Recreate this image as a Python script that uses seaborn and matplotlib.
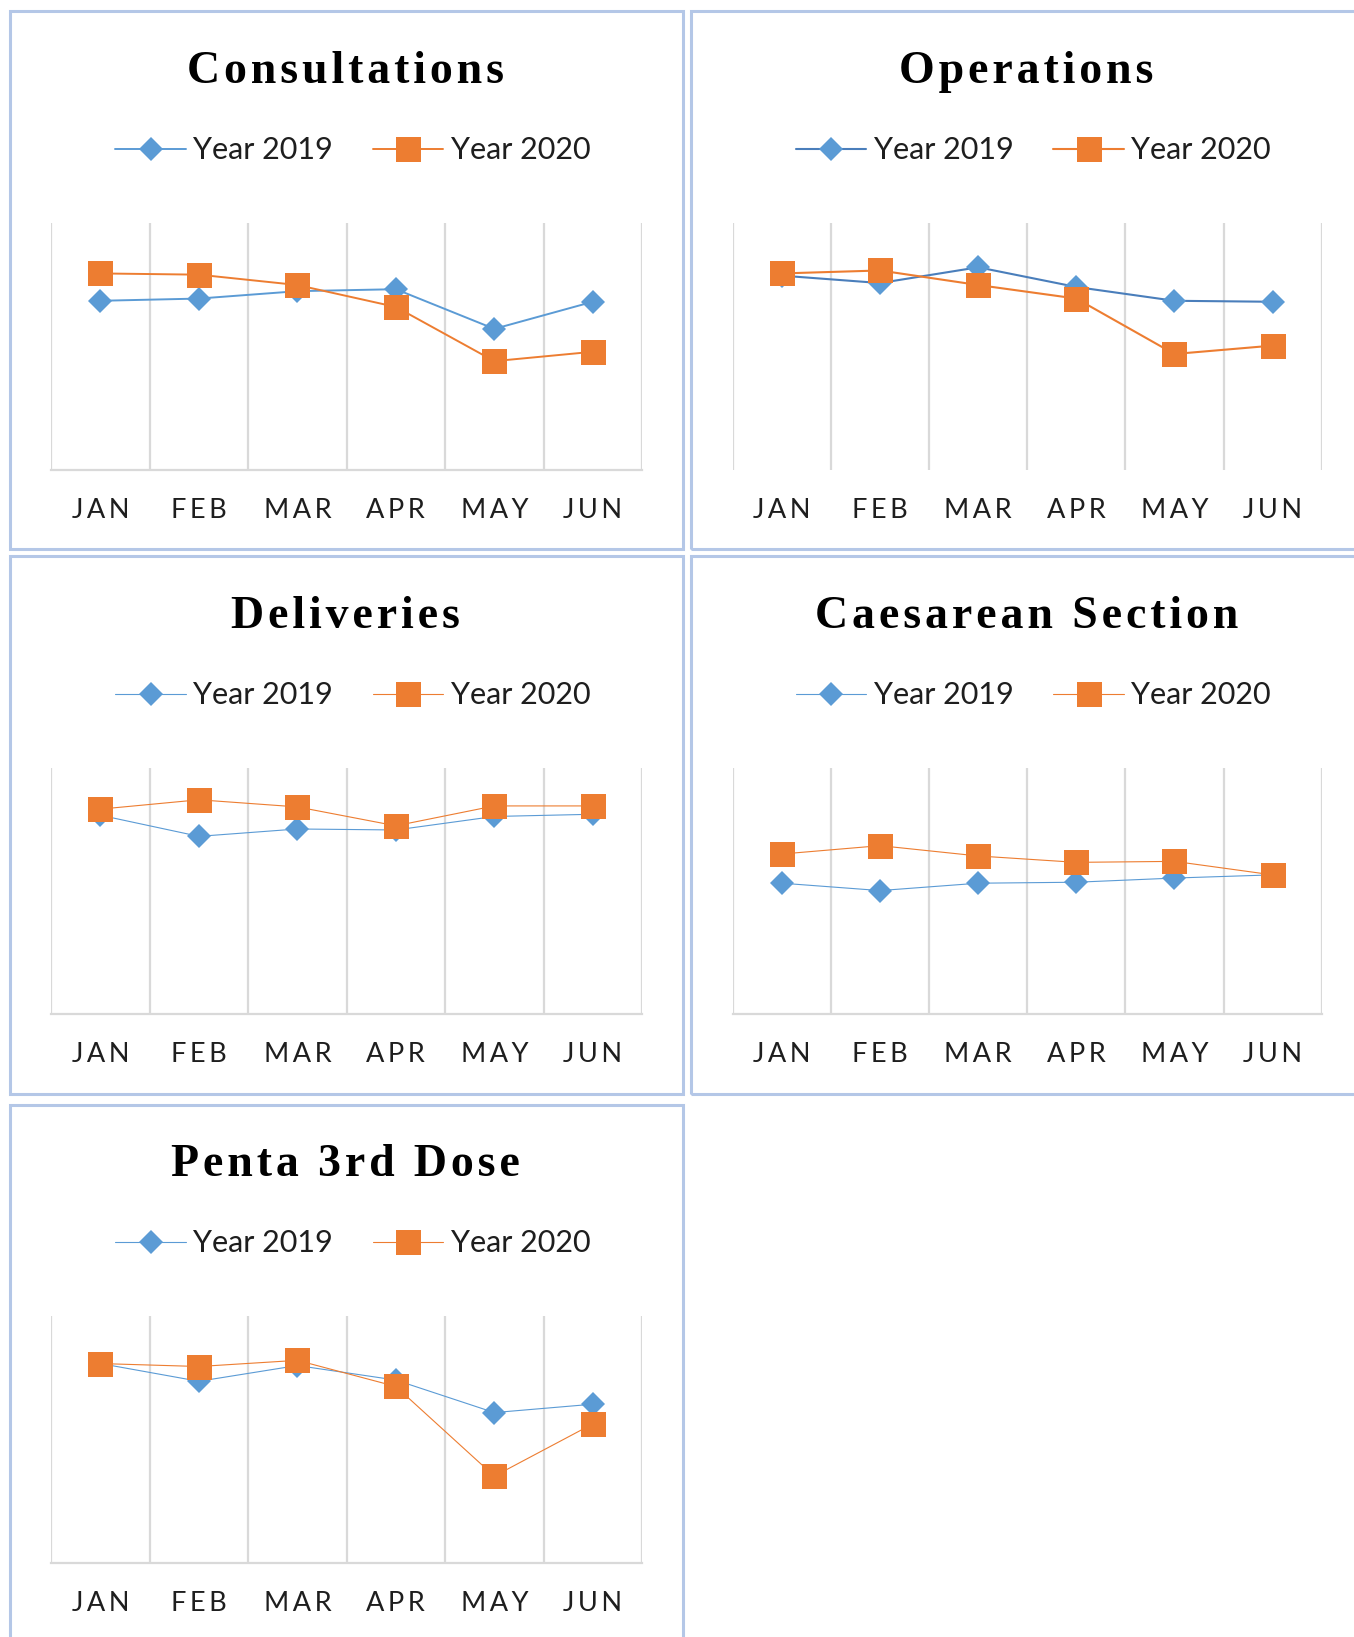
import numpy as np
import pandas as pd
import seaborn as sns
import matplotlib
matplotlib.use("Agg")
import matplotlib.pyplot as plt
from matplotlib.patches import Rectangle

# ---------------- data (relative levels, 0 = axis bottom, 100 = top) ----------------
months = ["JAN", "FEB", "MAR", "APR", "MAY", "JUN"]
titles = ["Consultations", "Operations", "Deliveries", "Caesarean Section", "Penta 3rd Dose"]

consult_2019 = [68.6, 69.5, 72.5, 73.3, 57.2, 68.2]
consult_2020 = [79.7, 79.2, 75.0, 66.1, 44.1, 47.9]
oper_2019 = [78.8, 75.8, 82.2, 74.2, 68.6, 68.2]
oper_2020 = [79.7, 80.9, 75.0, 69.5, 47.0, 50.4]
deliv_2019 = [80.9, 72.3, 75.3, 74.9, 80.4, 81.3]
deliv_2020 = [83.4, 87.2, 84.3, 76.6, 84.7, 84.7]
caes_2019 = [53.2, 50.2, 53.2, 53.6, 55.3, 56.6]
caes_2020 = [65.1, 68.5, 64.3, 61.7, 62.1, 56.6]
penta_2019 = [80.9, 73.7, 80.1, 74.2, 61.0, 64.4]
penta_2020 = [80.9, 79.7, 82.2, 71.6, 35.2, 56.4]

series_2019 = [consult_2019, oper_2019, deliv_2019, caes_2019, penta_2019]
series_2020 = [consult_2020, oper_2020, deliv_2020, caes_2020, penta_2020]
legend_labels = ["Year 2019", "Year 2020"]

# ---------------- styling ----------------
sns.set_theme(style="white")
plt.rcParams['font.family'] = ['Lato', 'DejaVu Sans']

BLUE = "#5B9BD5"
ORANGE = "#ED7D31"
GRID = "#D9D9D9"
BORDER = "#B4C7E7"
TXT = "#1E1E1E"

W, H = 1297.0, 1568.0  # layout reference units


def fx(x):
    return x / W


def fy(y):
    return 1 - y / H


fig = plt.figure(figsize=(13.54, 16.37), dpi=100)
fig.patch.set_facecolor("white")

# panel layout: box, plot area, title y, legend y, bottom spine, line width, blue line colour
panels = [
    ((10, 11, 654, 526), (49, 214, 615, 450), 69, 144, True, 1.4, BLUE),
    ((662, 11, 1304, 526), (702, 214, 1266, 450), 69, 144, False, 1.5, "#4A7EBB"),
    ((10, 533, 654, 1048), (49, 736, 615, 971), 591, 666, True, 0.8, BLUE),
    ((662, 533, 1304, 1048), (702, 736, 1266, 971), 591, 666, True, 0.8, BLUE),
    ((10, 1058, 654, 1580), (49, 1261, 615, 1497), 1116, 1191, True, 0.8, BLUE),
]

hair = "\u200a"

for i, (box, pa, ty, ly, spine, lw, bcol) in enumerate(panels):
    bx0, by0, bx1, by1 = box
    fig.patches.append(Rectangle((fx(bx0), fy(by1)), fx(bx1) - fx(bx0), fy(by0) - fy(by1),
                                 transform=fig.transFigure, fill=False,
                                 edgecolor=BORDER, linewidth=2.2, zorder=0))
    px0, py0, px1, py1 = pa
    ax = fig.add_axes([fx(px0), fy(py1), fx(px1) - fx(px0), fy(py0) - fy(py1)])
    ax.set_facecolor("none")

    sns.lineplot(x=months, y=series_2019[i], ax=ax, color=bcol, linewidth=lw,
                 marker="D", markersize=12.2, markerfacecolor=BLUE, markeredgewidth=0,
                 label=legend_labels[0], sort=False, zorder=3)
    sns.lineplot(x=months, y=series_2020[i], ax=ax, color=ORANGE, linewidth=lw,
                 marker="s", markersize=18, markerfacecolor=ORANGE, markeredgewidth=0,
                 label=legend_labels[1], sort=False, zorder=4)

    ax.set_xlim(-0.5, 5.5)
    ax.set_ylim(0, 100)
    ax.set_xlabel("")
    ax.set_ylabel("")
    ax.set_yticks([])
    ax.set_xticks(range(len(months)))
    ax.set_xticklabels([(hair * 2).join(m) for m in months], fontsize=19.5, color=TXT)
    ax.set_xticks(np.arange(-0.5, len(months), 1.0), minor=True)
    ax.tick_params(axis="x", which="both", length=0, pad=20.5)
    ax.grid(False)
    ax.grid(which="minor", axis="x", color=GRID, linewidth=1.6)
    for s in ["top", "left", "right"]:
        ax.spines[s].set_visible(False)
    if spine:
        ax.spines["bottom"].set_color(GRID)
        ax.spines["bottom"].set_linewidth(1.6)
    else:
        ax.spines["bottom"].set_visible(False)

    # title
    cx = 331 if i % 2 == 0 else 983
    fig.text(fx(cx), fy(ty), hair.join(titles[i]), ha="center", va="center",
             fontsize=33, fontweight="bold", color="black",
             family=["Liberation Serif", "DejaVu Serif"])

    # legend
    lcx = 338 if i % 2 == 0 else 990
    ax.legend(loc="center", bbox_to_anchor=(fx(lcx), fy(ly)), bbox_transform=fig.transFigure,
              ncol=2, frameon=False, fontsize=22, handlelength=2.3, handletextpad=0.25,
              columnspacing=1.3, labelcolor=TXT)

fig.savefig("out.png", dpi=100, facecolor="white")
